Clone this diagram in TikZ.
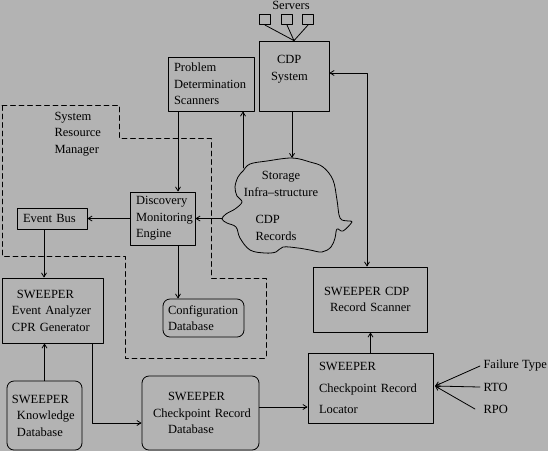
\documentclass[tikz,border=0pt]{standalone}
\usepackage{fontspec}
\setmainfont{Liberation Serif}
\usepackage{tikz}
\usetikzlibrary{calc}
\usetikzlibrary{arrows.meta}
\definecolor{bggray}{RGB}{179,179,179}

\begin{document}
\begin{tikzpicture}[
  x=1pt,y=-1pt,
  line cap=round,line join=round,
  every node/.style={font=\fontsize{12.5}{16.5}\selectfont},
  box/.style={draw,rectangle,line width=0.8pt,inner ysep=0pt,align=left},
  dbox/.style={box,rounded corners=7pt},
  srvbox/.style={draw,rectangle,line width=0.8pt,inner sep=0pt,minimum width=11.4pt,minimum height=10.7pt},
  link/.style={line width=0.8pt},
  arr/.style={link,->},
  arrtwo/.style={link,<->},
  srm/.style={line width=0.8pt,dash pattern=on 5pt off 3.5pt},
  >={Straight Barb[length=4pt,width=5pt]}
]
  \useasboundingbox (0,0) rectangle (548,451);
  \fill[bggray] (0,0) rectangle (548,451);

  % System Resource Manager border
  \draw[srm] (2,105) -- (119,105) -- (119,138) -- (211,138) -- (211,278)
    -- (266,278) -- (266,358) -- (125,358) -- (125,256) -- (2,256) -- cycle;
  \node[anchor=west,align=left] (srmlbl) at (51,134) {System\\Resource\\Manager};

  % Servers
  \node (srvlbl) at (291,5) {Servers};
  \node[srvbox] (s1) at (265,19.3) {};
  \node[srvbox] (s2) at (287,19.3) {};
  \node[srvbox] (s3) at (308,19.3) {};

  % Boxes
  \node[box,text width=46pt,inner xsep=12pt,minimum height=70pt] (cdp) at (294,76)
    {\hspace*{6pt}CDP\\System\\\mbox{}};
  \node[box,text width=74pt,inner xsep=6pt,minimum height=54pt] (pds) at (211,84)
    {Problem\\Determination\\Scanners};
  \node[box,text width=53pt,inner xsep=6pt,minimum height=53pt] (dme) at (162.5,218.5)
    {Discovery\\Monitoring\\Engine};
  \node[box,text width=58pt,inner xsep=6pt,minimum height=21pt] (evbus) at (52,218.5)
    {Event Bus};
  \node[box,text width=81pt,inner xsep=10pt,minimum height=65pt] (analyzer) at (52.5,310.5)
    {\hspace*{5pt}SWEEPER\\Event Analyzer\\CPR Generator};
  \node[dbox,text width=71pt,inner xsep=5pt,minimum height=38pt] (config) at (203.5,318)
    {Configuration\\Database};
  \node[dbox,text width=65pt,inner xsep=5pt,minimum height=69pt] (knowdb) at (44.5,415.5)
    {SWEEPER\\\hspace*{5pt}Knowledge\\\hspace*{5pt}Database};
  \node[dbox,text width=101pt,inner xsep=8pt,minimum height=74pt] (crdb) at (200.5,413)
    {\hspace*{18pt}SWEEPER\\\hspace*{3pt}Checkpoint Record\\\hspace*{18pt}Database};
  \node[box,text width=92pt,inner xsep=11pt,minimum height=65pt] (scanner) at (370,299.5)
    {SWEEPER CDP\\\hspace*{6pt}Record Scanner};
  \node[box,text width=103pt,inner xsep=11pt,minimum height=70pt] (locator) at (370.5,388)
    {SWEEPER\\[5pt]Checkpoint Record\\[5pt]Locator};

  % Storage cloud
  \draw[link] plot[smooth cycle,tension=0.6] coordinates {
    (250,164) (267,161) (292,158) (310,162) (323,167) (333,180) (337,200)
    (340,218) (348,221) (352,222) (343,231) (337,229) (335,238) (331,247)
    (322,252) (310,250) (298,248) (283,247) (276,252) (265,253) (250,250)
    (240,238) (236,227) (227,223) (222,219) (226,214) (235,209) (242,202)
    (237,196) (235,187) (238,177) (243,171)};
  \coordinate (cloudtop) at (292,158);
  \coordinate (cloudpds) at (243,168);
  \coordinate (cloudleft) at (222,218.5);
  \node[align=center] (stortxt) at (281,184) {Storage\\Infra--structure};
  \node[anchor=west,align=left] (rectxt) at (252,228) {CDP\\Records};

  % Inputs to the locator
  \node[anchor=west] (ftype) at (480,366) {Failure Type};
  \node[anchor=west] (rto) at (480,387) {RTO};
  \node[anchor=west] (rpo) at (480,409) {RPO};
  \coordinate (locin) at (435,386);

  % Connectors
  \draw[link] (s1.south) -- (cdp.north);
  \draw[link] (s2.south) -- (cdp.north);
  \draw[link] (s3.south) -- (cdp.north);
  \draw[arr] (cloudtop |- cdp.south) -- (cloudtop);
  \draw[arr] (cloudpds) -- (cloudpds |- pds.south);
  \draw[arr] ([xshift=15.5pt]dme.north |- pds.south) -- ([xshift=15.5pt]dme.north);
  \draw[arr] ([xshift=15.5pt]dme.south) -- ([xshift=15.5pt]dme.south |- config.north);
  \draw[arr] (cloudleft) -- (dme.east);
  \draw[arr] (dme.west) -- (evbus.east);
  \draw[arr] ([xshift=-8pt]evbus.south) -- ([xshift=-8pt]evbus.south |- analyzer.north);
  \draw[arr] (knowdb.north) -- (knowdb.north |- analyzer.south);
  \draw[arr] ([xshift=39.5pt]analyzer.south) |- ([yshift=-10pt]crdb.west);
  \draw[arr] ([yshift=-19pt]locator.west -| crdb.east) -- ([yshift=-19pt]locator.west);
  \draw[arr] (locator.north) -- (locator.north |- scanner.south);
  \draw[arrtwo] ([xshift=-3pt]scanner.north) |- ([yshift=3pt]cdp.east);
  \draw[arr] (ftype.west) -- (locin);
  \draw[arr] (rto.west) -- (locin);
  \draw[arr] ([xshift=-5pt]rpo.west) -- (locin);
\end{tikzpicture}
\end{document}
